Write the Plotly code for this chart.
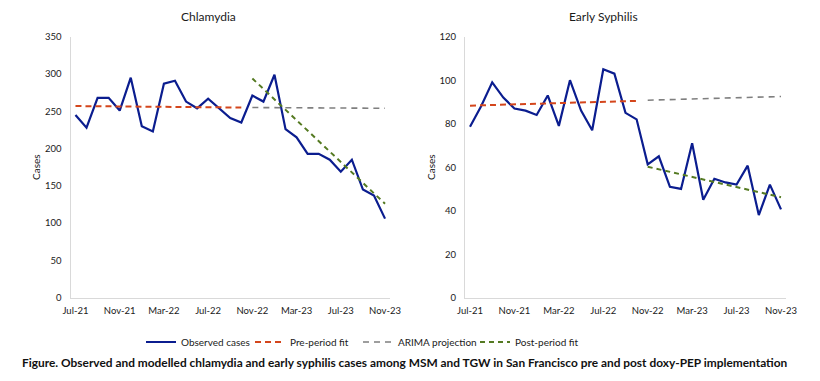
import plotly.graph_objects as go
import pandas as pd

months = list(pd.date_range("2021-07-01", "2023-11-01", freq="MS").strftime("%b-%y"))
tick_labels = ["Jul-21", "Nov-21", "Mar-22", "Jul-22", "Nov-22", "Mar-23", "Jul-23", "Nov-23"]

chlamydia_obs = [245, 228, 268, 268, 251, 295, 230, 223, 287, 291, 263, 254, 267, 254, 241, 235,
                 271, 263, 299, 226, 215, 193, 193, 185, 169, 185, 145, 137, 106]
chlamydia_pre_x = ["Jul-21", "Oct-22"]
chlamydia_pre = [257, 255]
chlamydia_arima_x = ["Nov-22", "Nov-23"]
chlamydia_arima = [255, 254]
chlamydia_post_x = ["Nov-22", "Nov-23"]
chlamydia_post = [294, 126]

syphilis_obs = [78.6, 88, 99, 92, 87, 86, 84, 93, 79, 100, 86, 77, 105, 103, 85, 82,
                61.3, 65, 51, 50, 71, 45, 54.7, 53, 52, 60.7, 38, 52, 40.6]
syphilis_pre_x = ["Jul-21", "Oct-22"]
syphilis_pre = [88.3, 90.5]
syphilis_arima_x = ["Nov-22", "Nov-23"]
syphilis_arima = [90.8, 92.5]
syphilis_post_x = ["Nov-22", "Nov-23"]
syphilis_post = [60.2, 46.2]

BLUE = "#0b1d8f"
RED = "#d4461c"
GREY = "#7f7f7f"
GREEN = "#557a22"
FONT = "Lato"
TXT = "#1a1a1a"

W, H = 820, 381
def px_x(p):
    return p / W
def px_y(p):
    return 1 - p / H

idx = {m: i for i, m in enumerate(months)}
xs = list(range(len(months)))

fig = go.Figure()

panels = [
    ("x", "y", chlamydia_obs, chlamydia_pre_x, chlamydia_pre, chlamydia_arima_x, chlamydia_arima,
     chlamydia_post_x, chlamydia_post, True),
    ("x2", "y2", syphilis_obs, syphilis_pre_x, syphilis_pre, syphilis_arima_x, syphilis_arima,
     syphilis_post_x, syphilis_post, False),
]
for xa, ya, obs, prx, pr, arx, ar, pox, po, show in panels:
    fig.add_trace(go.Scatter(x=xs, y=obs, mode="lines", name="Observed cases",
                             line=dict(color=BLUE, width=2.2), xaxis=xa, yaxis=ya,
                             showlegend=show, legend="legend"))
    fig.add_trace(go.Scatter(x=[idx[m] for m in prx], y=pr, mode="lines", name="Pre-period fit",
                             line=dict(color=RED, width=2, dash="6px,4px"), xaxis=xa, yaxis=ya,
                             showlegend=show, legend="legend2"))
    fig.add_trace(go.Scatter(x=[idx[m] for m in arx], y=ar, mode="lines", name="ARIMA projection",
                             line=dict(color=GREY, width=1.6, dash="6px,5px"), xaxis=xa, yaxis=ya,
                             showlegend=show, legend="legend3"))
    fig.add_trace(go.Scatter(x=[idx[m] for m in pox], y=po, mode="lines", name="Post-period fit",
                             line=dict(color=GREEN, width=2, dash="5px,4px"), xaxis=xa, yaxis=ya,
                             showlegend=show, legend="legend4"))

tickvals = [idx[t] for t in tick_labels]
xcommon = dict(range=[-0.45, len(months) - 0.55], tickvals=tickvals, ticktext=tick_labels,
               showgrid=False, zeroline=False, showline=True, linecolor="#d9d9d9", linewidth=1,
               ticks="", tickfont=dict(family=FONT, size=9.5, color=TXT), ticklabelstandoff=4,
               automargin=False)
ycommon = dict(showgrid=False, zeroline=False, showline=True, linecolor="#d9d9d9", linewidth=1,
               ticks="", tickfont=dict(family=FONT, size=9.5, color=TXT), automargin=False,
               ticklabelstandoff=6,
               title=dict(text="Cases", font=dict(family=FONT, size=10, color=TXT), standoff=2),
               domain=[px_y(297.7), px_y(36.7)])

def leg(xpx):
    return dict(orientation="h", x=px_x(xpx), y=px_y(342), xanchor="left", yanchor="middle",
                font=dict(family=FONT, size=10, color=TXT), itemwidth=30,
                bgcolor="rgba(0,0,0,0)")

fig.update_layout(
    template="none",
    width=W, height=H,
    font=dict(family=FONT, color=TXT),
    margin=dict(l=0, r=0, t=0, b=0, autoexpand=False),
    paper_bgcolor="white", plot_bgcolor="white",
    xaxis=dict(**xcommon, domain=[px_x(70.5), px_x(390)], anchor="y"),
    yaxis=dict(**ycommon, range=[0, 350], dtick=50, anchor="x"),
    xaxis2=dict(**xcommon, domain=[px_x(465), px_x(786)], anchor="y2"),
    yaxis2=dict(**ycommon, range=[0, 120], dtick=20, anchor="x2"),
    showlegend=True,
    legend=leg(141), legend2=leg(250), legend3=leg(358), legend4=leg(475),
    annotations=[
        dict(text="Chlamydia", x=px_x(208), y=px_y(17), xref="paper", yref="paper",
             xanchor="center", yanchor="middle",
             showarrow=False, font=dict(family=FONT, size=12, color=TXT)),
        dict(text="Early Syphilis", x=px_x(603), y=px_y(17), xref="paper", yref="paper",
             xanchor="center", yanchor="middle",
             showarrow=False, font=dict(family=FONT, size=12, color=TXT)),
        dict(text="<b>Figure. Observed and modelled chlamydia and early syphilis cases among MSM and TGW in San Francisco pre and post doxy-PEP implementation</b>",
             x=px_x(405), y=px_y(362), xref="paper", yref="paper", xanchor="center", yanchor="middle",
             showarrow=False, font=dict(family=FONT, size=11.9, color="#111111")),
    ],
)

fig.write_html("out.html", config={"displayModeBar": False},
               post_script="document.body.style.margin='0';document.body.style.overflow='hidden';")
